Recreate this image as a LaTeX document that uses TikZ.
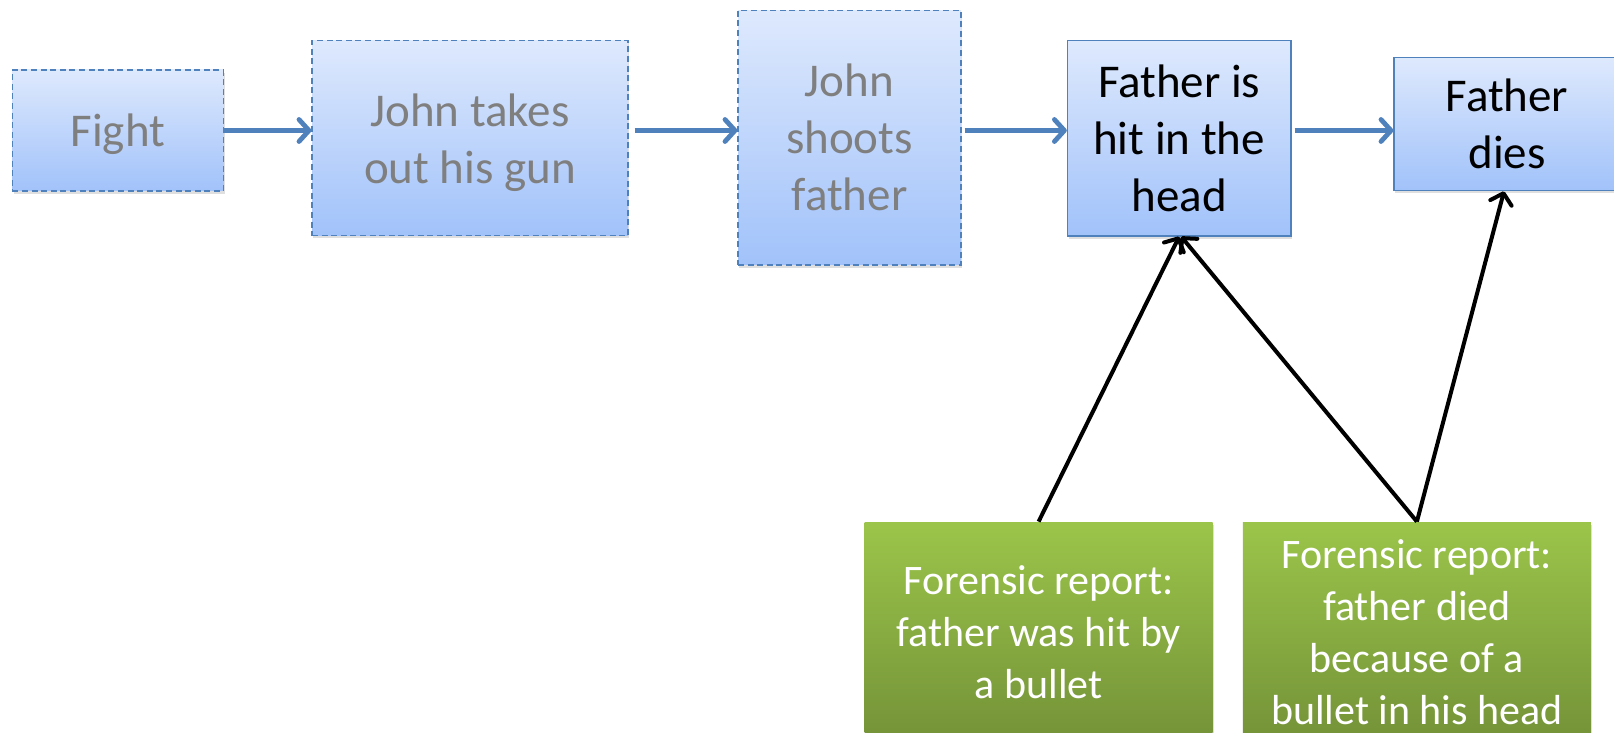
\documentclass[tikz,border=0pt]{standalone}
\usepackage{fontspec}
\setmainfont{Carlito}
\usetikzlibrary{arrows.meta,shadows}
\definecolor{evblue}{RGB}{79,129,189}
\definecolor{bluetop}{RGB}{222,233,253}
\definecolor{bluebot}{RGB}{161,194,250}
\definecolor{greentop}{RGB}{155,197,74}
\definecolor{greenbot}{RGB}{116,146,56}
\definecolor{hypogrey}{RGB}{127,127,127}
\tikzset{
	event/.style={rectangle, draw=evblue, line width=0.6pt, top color=bluetop, bottom color=bluebot, align=center, inner sep=0pt, font=\fontsize{23.5}{28.5}\selectfont, drop shadow={shadow xshift=0.6pt, shadow yshift=-1.4pt, opacity=0.25}},
	hypo/.style={event, dash pattern=on 3pt off 1.8pt, text=hypogrey},
	report/.style={rectangle, top color=greentop, bottom color=greenbot, text=white, align=center, inner sep=0pt, minimum width=174pt, minimum height=110pt, font=\fontsize{21}{26}\selectfont, drop shadow={shadow xshift=0.6pt, shadow yshift=-1.4pt, opacity=0.25}},
	flow/.style={draw=evblue, line width=2.4pt, -{Straight Barb[length=5pt,width=11pt,round]}},
	support/.style={draw=black, line width=2pt, -{Straight Barb[length=5pt,width=11pt,round]}}
}
\begin{document}
\begin{tikzpicture}[x=0.5pt, y=-0.5pt]
		\useasboundingbox (0,0) rectangle (1614,733);
		\node [hypo, text depth=0pt, minimum width=105.5pt, minimum height=60.5pt](fight) at (117.9,130.5) {Fight};
		\node [hypo, text depth=0pt, minimum width=158pt, minimum height=97.5pt](takesgun) at (470,138.2) {John takes\\out his gun};
		\node [hypo, minimum width=111.5pt, minimum height=127.25pt](shoots) at (849.5,137.75) {John\\shoots\\father};
		\node [event, minimum width=111.8pt, minimum height=97.65pt](hithead) at (1179.2,138.35) {Father is\\hit in the\\head};
		\node [event, minimum width=113pt, minimum height=66.5pt](dies) at (1507,124.2) {Father\\dies};
		\node [report](report1) at (1038.6,632) {Forensic report:\\father was hit by\\a bullet};
		\node [report](report2) at (1416.9,632) {Forensic report:\\father died\\because of a\\bullet in his head};
		\draw [flow] (fight.east) -- (fight.east -| takesgun.west);
		\draw [flow] ([xshift=3pt]takesgun.east |- fight.east) -- (fight.east -| shoots.west);
		\draw [flow] ([xshift=1.5pt]shoots.east |- fight.east) -- (fight.east -| hithead.west);
		\draw [flow] ([xshift=1.5pt]hithead.east |- fight.east) -- (fight.east -| dies.west);
		\draw [support] (report1.north) -- (hithead.south);
		\draw [support] (report2.north) -- ([xshift=1pt]hithead.south);
		\draw [support] (report2.north) -- ([xshift=-1.5pt]dies.south);
\end{tikzpicture}
\end{document}
